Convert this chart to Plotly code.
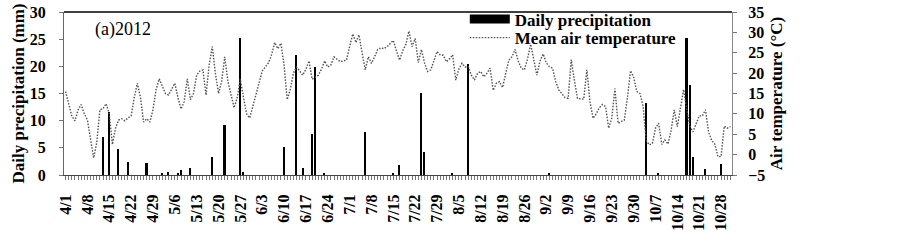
import plotly.graph_objects as go

# ---- data ----
tick_labels = ["4/1", "4/8", "4/15", "4/22", "4/29", "5/6", "5/13", "5/20", "5/27",
               "6/3", "6/10", "6/17", "6/24", "7/1", "7/8", "7/15", "7/22", "7/29",
               "8/5", "8/12", "8/19", "8/26", "9/2", "9/9", "9/16", "9/23", "9/30",
               "10/7", "10/14", "10/21", "10/28"]
n_days = 214  # 4/1 .. 10/31 (2012)

# day index (0 = 4/1) and daily precipitation (mm)
rain_day = [12, 14, 17, 20, 26, 31, 33, 36, 37, 40, 47, 51, 56, 57, 70, 74, 76, 79, 80, 83,
            96, 105, 107, 114, 115, 124, 129, 155, 186, 190, 199, 200, 201, 205, 210]
rain_mm = [7.0, 11.6, 4.8, 2.45, 2.2, 0.3, 0.55, 0.3, 1.0, 1.2, 3.4, 9.2, 25.3, 0.5, 5.2, 22.0,
           1.2, 7.6, 19.9, 0.2, 7.85, 0.2, 1.8, 15.1, 4.3, 0.2, 20.4, 0.2, 13.2, 0.2, 25.3,
           16.6, 3.4, 1.05, 2.0]

# mean air temperature (°C), one value per day from 4/1
temp = [15.5, 12.5, 9.5, 8.3, 11, 12.3, 10, 8.5, 4, -0.8,
        3, 11, 11.3, 12.5, 10, 2.5, 6.5, 8.5, 8.8, 8.3,
        9, 9.5, 14, 17.5, 14, 8, 8.8, 8, 11, 16,
        18.6, 16.8, 15, 14.6, 16, 17.5, 14, 11.2, 13, 18.6,
        13.5, 15, 19.5, 20.5, 20.8, 14.6, 22, 26.5, 20, 15,
        18, 24, 18, 15, 11.5, 14, 18.5, 14, 10, 9,
        12, 15, 17.5, 20.5, 21.5, 22.5, 24.5, 27.5, 26, 27.3,
        22, 13.5, 16, 20, 21.5, 20.5, 19.5, 21, 23, 18.5,
        19, 19.5, 21, 23, 21.5, 22, 24, 23.5, 22.8, 23,
        23.2, 26.5, 29.6, 27.5, 29.4, 25, 20.8, 24, 22.4, 24,
        25.8, 26.2, 26, 26.5, 27.3, 28, 25.5, 23.2, 25.5, 27,
        30.3, 26.5, 28.5, 22.6, 25.8, 22.5, 20.4, 20.8, 23, 25.3,
        24.5, 24.4, 22.8, 23.5, 24.5, 18.3, 21, 22.4, 21.5, 21.6,
        19.5, 18.3, 20, 20.4, 19.1, 20, 21.2, 15.8, 17.5, 17.9,
        16.5, 19.5, 23.2, 24, 25.8, 23, 21.2, 20.8, 23.5, 27.1,
        23, 19.5, 23, 24.7, 22.5, 21.6, 21.2, 18, 15.9, 15,
        14, 13.8, 23.3, 18.3, 13.8, 13.7, 13.6, 20.8, 13, 8.9,
        10, 11.5, 12.3, 11.8, 6.5, 9, 16.2, 7.7, 8.2, 8.5,
        14, 20.6, 19, 15.5, 15, 12, 3.5, 2.4, 2.8, 6.5,
        7.7, 2.5, 3.6, 2.6, 6, 11, 6.9, 11, 16, 11,
        7, 5.6, 7.5, 9.5, 9.5, 11, 5.5, 3.5, 2.6, -0.5,
        -0.5, 7, 6.5, 6.9]

# ---- build ----
days = list(range(n_days))
precip = [0.0] * n_days
for d, v in zip(rain_day, rain_mm):
    precip[d] = v

FONT = "Liberation Serif"
TICKF = dict(family=FONT, size=16, color="black", weight="bold")
TITLEF = dict(family=FONT, size=17, color="black", weight="bold")
LEGF = dict(family=FONT, size=17, color="black", weight="bold")

fig = go.Figure()
fig.add_trace(go.Bar(x=days, y=precip, marker=dict(color="black", line=dict(width=0)),
                     width=0.5, showlegend=False, name="Daily precipitation"))
# legend entry for bars (wide black bar symbol)
fig.add_trace(go.Scatter(x=[None], y=[None], mode="lines", line=dict(color="black", width=9),
                         name="Daily precipitation", legend="legend"))
fig.add_trace(go.Scatter(x=days, y=temp, mode="lines", yaxis="y2",
                         line=dict(color="#505050", width=1.4, dash="1.5px,1.5px"),
                         name="Mean air temperature", legend="legend2"))

fig.update_layout(
    width=899, height=246,
    margin=dict(l=64, r=167, t=12, b=71, autoexpand=False),
    plot_bgcolor="white", paper_bgcolor="white",
    bargap=0,
    font=dict(family=FONT, color="black"),
    xaxis=dict(range=[-0.5, n_days - 0.5], tickmode="array",
               tickvals=days[::7], ticktext=tick_labels, tickangle=-90,
               tickfont=TICKF, ticks="outside", ticklen=4, tickcolor="#777",
               ticklabelstandoff=8, automargin=False,
               minor=dict(tick0=0, dtick=1, ticks="outside", ticklen=4, tickcolor="#777"),
               showline=True, linecolor="#444", linewidth=1, showgrid=False, zeroline=False),
    yaxis=dict(range=[0, 30], dtick=5, tickfont=TICKF,
               ticks="outside", ticklen=4, tickcolor="#777", ticklabelstandoff=10,
               showline=True, linecolor="#666", showgrid=False, zeroline=False, automargin=False,
               title=dict(text="Daily precipitation (mm)", font=TITLEF, standoff=0)),
    yaxis2=dict(range=[-5, 35], dtick=5, overlaying="y", side="right",
                tickfont=TICKF, ticks="outside", ticklen=4, tickcolor="#777", ticklabelstandoff=8,
                showline=True, linecolor="#888", showgrid=False, zeroline=False, automargin=False,
                title=dict(text="Air temperature (°C)", font=TITLEF, standoff=5)),
    legend=dict(x=0.6, y=0.954, xanchor="left", yanchor="middle", bgcolor="rgba(0,0,0,0)",
                font=LEGF, itemwidth=40),
    legend2=dict(x=0.6, y=0.84, xanchor="left", yanchor="middle", bgcolor="rgba(0,0,0,0)",
                 font=LEGF, itemwidth=40),
    annotations=[dict(text="(a)2012", x=0.043, y=0.89, xref="paper", yref="paper",
                      xanchor="left", yanchor="middle", showarrow=False,
                      font=dict(family=FONT, size=18, color="black"))],
    shapes=[dict(type="line", xref="paper", yref="paper", x0=0, x1=1, y0=1, y1=1,
                 line=dict(color="black", width=1.5))],
)

fig.write_html("out.html", config={"displayModeBar": False},
               post_script="document.body.style.margin='0';document.body.style.overflow='hidden';")
